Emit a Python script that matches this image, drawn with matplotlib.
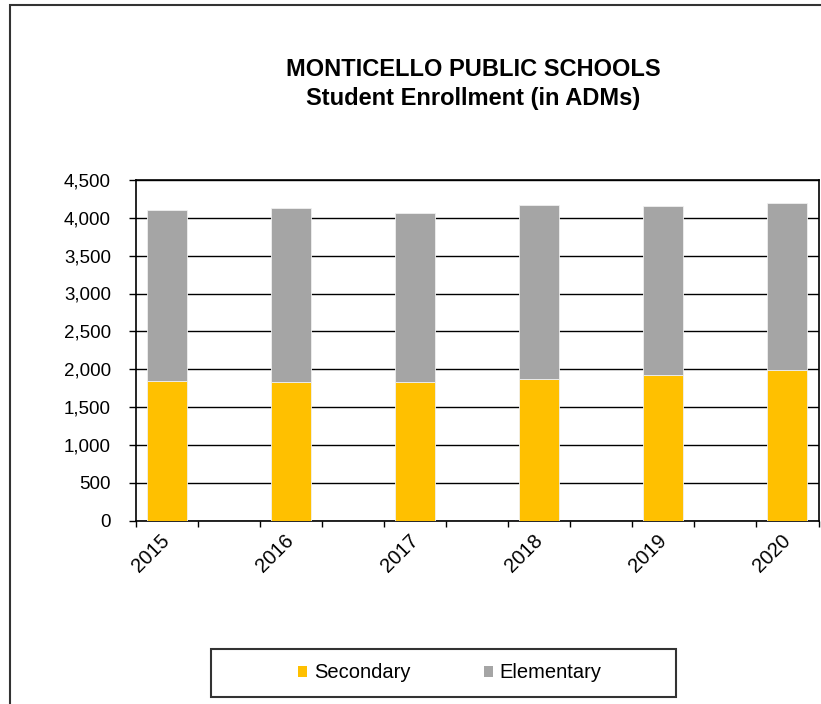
import numpy as np
import matplotlib
matplotlib.use("Agg")
import matplotlib.pyplot as plt
import matplotlib.patches as patches
from matplotlib.ticker import FuncFormatter, FixedLocator

plt.rcParams['font.family'] = ['Liberation Sans', 'DejaVu Sans']

# Data
years = ["2015", "2016", "2017", "2018", "2019", "2020"]
secondary = [1844, 1830, 1830, 1875, 1920, 1990]
elementary_total = [4108, 4130, 4068, 4175, 4153, 4192]
elementary = [t - s for t, s in zip(elementary_total, secondary)]

yticks = [0, 500, 1000, 1500, 2000, 2500, 3000, 3500, 4000, 4500]

W, H = 821, 704
fig = plt.figure(figsize=(W / 100, H / 100), dpi=100)

# outer chart border (cut off at right/bottom like the reference)
fig.patches.append(patches.Rectangle((10 / W, -0.05), 1.2, 1 - 5 / H + 0.05,
                                     transform=fig.transFigure, fill=False,
                                     edgecolor='#333333', linewidth=1.5))

ax = fig.add_axes([136 / W, 1 - 520.5 / H, (818.5 - 136) / W, (520.5 - 180) / H])

# every other category slot is blank in the original sheet
x = np.arange(len(years)) * 2
bw = 0.645
ax.bar(x, secondary, width=bw, color='#FFC000', edgecolor='#F0F0F0', linewidth=0.6,
       label='Secondary', zorder=3)
ax.bar(x, elementary, width=bw, bottom=secondary, color='#A5A5A5', edgecolor='#F0F0F0',
       linewidth=0.6, label='Elementary', zorder=3)

ax.set_xlim(-0.5, x[-1] + 0.5)
ax.set_ylim(0, 4500)
ax.set_yticks(yticks)
ax.yaxis.set_major_formatter(FuncFormatter(lambda v, p: f"{int(v):,}"))
ax.grid(axis='y', color='black', linewidth=1.0, zorder=1)

ax.set_xticks(x)
ax.set_xticklabels(years, rotation=45, ha='right', va='center', rotation_mode='anchor')
ax.xaxis.set_minor_locator(FixedLocator(np.arange(-0.5, x[-1] + 1, 1)))
ax.tick_params(axis='x', which='major', length=0, pad=12, labelsize=14.5)
ax.tick_params(axis='x', which='minor', length=4, width=1.0, direction='out')
ax.tick_params(axis='y', length=5, width=1.0, pad=13, labelsize=13.5)

for s in ax.spines.values():
    s.set_linewidth(1.2)
    s.set_color('black')

fig.text(473 / W, 1 - 84 / H, "MONTICELLO PUBLIC SCHOOLS\nStudent Enrollment (in ADMs)",
         ha='center', va='center', fontsize=17, fontweight='bold', linespacing=1.3)

# legend with a wide frame
fig.patches.append(patches.Rectangle((211 / W, 1 - 697 / H), (676 - 211) / W, (697 - 649) / H,
                                     transform=fig.transFigure, fill=False,
                                     edgecolor='#333333', linewidth=1.5))
handles, labels = ax.get_legend_handles_labels()
leg = fig.legend(handles, labels, loc='center', bbox_to_anchor=(450 / W, 1 - 673 / H),
                 ncol=2, frameon=False, fontsize=14.5, handlelength=0.45, handleheight=0.45,
                 handletextpad=0.35, columnspacing=3.6)
for h in leg.legend_handles:
    h.set_edgecolor('none')

fig.savefig("out.png", dpi=100)
